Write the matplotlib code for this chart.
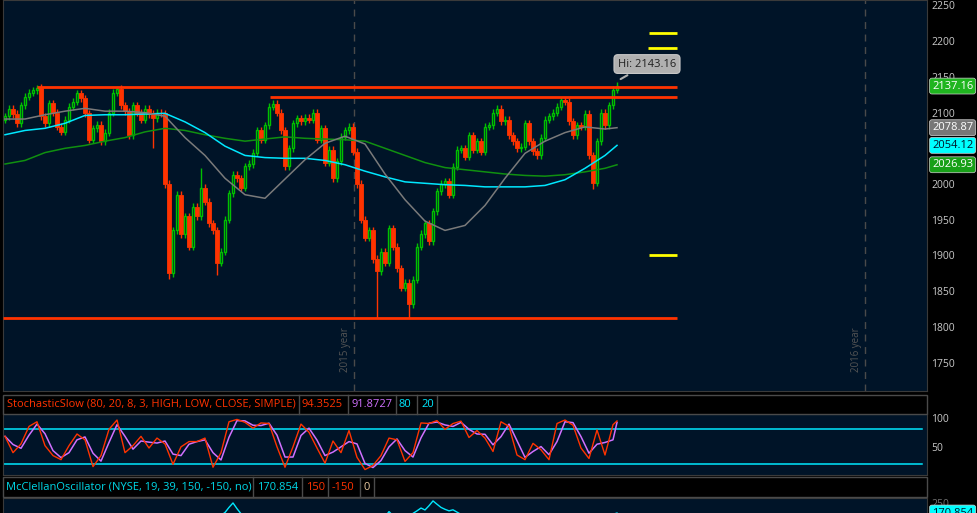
import numpy as np
import matplotlib
matplotlib.use('Agg')
import matplotlib.pyplot as plt
from matplotlib.patches import Rectangle
from matplotlib.lines import Line2D
import matplotlib.transforms as mtransforms

plt.rcParams['font.family'] = ['Open Sans', 'DejaVu Sans']

# daily-ish closes (each bar = 2 sessions), last one is the current price
closes = [2095, 2105, 2098, 2085, 2110, 2122, 2128, 2131, 2135, 2095,
          2085, 2113, 2100, 2080, 2073, 2090, 2108, 2115, 2127, 2120,
          2099, 2062, 2078, 2083, 2060, 2072, 2100, 2128, 2133, 2110,
          2102, 2068, 2110, 2100, 2090, 2105, 2098, 2092, 2100, 2099,
          2000, 1875, 1935, 1985, 1930, 1955, 1912, 1968, 1955, 1995,
          1975, 1945, 1935, 1890, 1905, 1950, 1987, 2013, 2008, 1995,
          2025, 2028, 2044, 2075, 2062, 2082, 2108, 2112, 2100, 2075,
          2025, 2050, 2085, 2092, 2088, 2093, 2090, 2100, 2062, 2078,
          2030, 2048, 2008, 2032, 2066, 2075, 2080, 2045, 2000, 1950,
          1925, 1935, 1895, 1878, 1905, 1890, 1938, 1912, 1882, 1855,
          1862, 1832, 1866, 1912, 1930, 1945, 1920, 1962, 1990, 2000,
          2004, 1985, 2024, 2048, 2050, 2038, 2068, 2048, 2060, 2045,
          2080, 2082, 2100, 2105, 2088, 2090, 2068, 2060, 2050, 2052,
          2085, 2060, 2046, 2040, 2065, 2090, 2095, 2100, 2108, 2117,
          2115, 2088, 2068, 2082, 2080, 2098, 2040, 2002, 2060, 2100,
          2082, 2110, 2132, 2137.16]
first_open = 2090
# bars with long shadows
wick_high = {8: 2138, 28: 2135, 49: 2022, 67: 2117, 153: 2143.16}
wick_low = {37: 2050, 41: 1867, 53: 1873, 93: 1813, 101: 1813, 147: 1993}

# moving averages sampled every 5 bars
ma_day = [0, 5, 10, 15, 20, 25, 30, 35, 40, 45, 50, 55, 60, 65, 70, 75,
          80, 85, 90, 95, 100, 105, 110, 115, 120, 125, 130, 135, 140, 145, 150, 153]
ma_gray = [2091, 2091, 2097, 2102, 2106, 2102, 2102, 2100, 2095, 2065, 2040, 2008,
           1985, 1980, 2007, 2034, 2057, 2067, 2056, 2014, 1978, 1948, 1935, 1942,
           1970, 2008, 2043, 2060, 2072, 2080, 2077, 2078.87]
ma_cyan = [2069, 2075, 2078, 2085, 2096, 2097, 2097, 2098, 2099, 2087, 2072, 2053,
           2040, 2037, 2036, 2036, 2033, 2027, 2018, 2010, 2003, 2001, 1999, 1998,
           1996, 1996, 1996, 1998, 2006, 2022, 2040, 2054.12]
ma_green = [2028, 2033, 2044, 2050, 2054, 2060, 2065, 2073, 2078, 2075, 2069, 2064,
            2060, 2063, 2066, 2064, 2063, 2062, 2060, 2050, 2040, 2030, 2023, 2020,
            2017, 2014, 2012, 2011, 2013, 2017, 2022, 2026.93]

# drawn levels: (price, first bar, last bar)
red_levels = [(2136, 8, 168), (2122, 66.25, 168), (1813, -0.5, 168)]
yellow_levels = [(2211, 161, 168), (2191, 160.75, 168), (1900, 161, 168)]
year_bars = [87.25, 215]
year_labels = ['2015 year', '2016 year']

# slow stochastic %K every 2 bars
stoch_k = [68, 40, 55, 85, 93, 52, 35, 28, 52, 72,
           62, 16, 35, 80, 96, 40, 52, 68, 48, 65,
           55, 20, 50, 59, 59, 65, 15, 40, 93, 97,
           92, 82, 91, 90, 50, 15, 50, 89, 75, 48,
           22, 60, 40, 78, 32, 11, 18, 35, 65, 62,
           25, 40, 91, 90, 95, 80, 90, 94, 66, 78,
           65, 42, 93, 85, 36, 28, 56, 45, 28, 90,
           96, 87, 48, 30, 79, 36, 88, 94.35]
stoch_day = list(range(0, 153, 2)) + [153]

# McClellan oscillator
mcc_day = [0, 10, 20, 30, 40, 44, 48, 52, 55, 56, 57, 58, 59, 62, 70, 80, 88, 92,
           95, 96, 97, 100, 102, 103, 104, 105, 106, 107, 108, 109, 110, 111, 112,
           113, 114, 116, 120, 130, 140, 146, 148, 150, 153]
mcc = [40, 20, 35, -20, -150, -60, 20, 110, 175, 215, 250, 205, 165, 120, 30, -40,
       -120, -60, 140, 182, 150, 120, 168, 188, 210, 195, 228, 266, 240, 215, 200,
       188, 196, 178, 160, 130, 90, 40, -30, -90, 60, 140, 170.854]

BG = '#001428'
RED = '#ff3300'
GREEN = '#00c000'
TXT = '#c8c8c8'
W, H = 978, 513


def rect(x0, y0, x1, y1):
    return [x0 / W, 1 - y1 / H, (x1 - x0) / W, (y1 - y0) / H]


fig = plt.figure(figsize=(W / 100, H / 100), dpi=100, facecolor='black')

# ---------------- price panel
ax = fig.add_axes(rect(3, 0, 927, 391), facecolor=BG)
ax.set_xlim(-0.5, 230.5)
ax.set_ylim(1710.1, 2257.7)

opens = [first_open] + closes[:-1]
n = len(closes)
for i in range(n):
    o, c = opens[i], closes[i]
    hi = wick_high.get(i, max(o, c) + 5)
    lo = wick_low.get(i, min(o, c) - 5)
    up = c >= o
    col = GREEN if up else RED
    top, bot = max(o, c), min(o, c)
    ax.vlines(i, top, hi, color=col, lw=1, zorder=2)
    ax.vlines(i, lo, bot, color=col, lw=1, zorder=2)
    if up:
        ax.add_patch(Rectangle((i - 0.35, bot), 0.7, max(top - bot, 1),
                               fc='none', ec=col, lw=1, zorder=2))
    else:
        ax.add_patch(Rectangle((i - 0.4, bot), 0.8, max(top - bot, 1),
                               fc=col, ec=col, lw=0.6, zorder=2))

ax.plot(ma_day, ma_green, color='#109010', lw=1.1, zorder=3)
ax.plot(ma_day, ma_cyan, color='#00e8ff', lw=1.1, zorder=3)
ax.plot(ma_day, ma_gray, color='#7a7a7a', lw=1.1, zorder=3)

for p, a, b in red_levels:
    ax.hlines(p, a, b, color=RED, lw=2, zorder=4)
for p, a, b in yellow_levels:
    ax.hlines(p, a, b, color='#ffff00', lw=2, zorder=4)

for xb, lab in zip(year_bars, year_labels):
    ax.axvline(xb, color='#4a4a4a', lw=1, ls=(0, (5, 4)), zorder=1)
    ax.text(xb - 2.2, 1737, lab, rotation=90, ha='center', va='bottom',
            color='#555555', fontsize=7)

ax.annotate('Hi: 2143.16', xy=(153.3, 2145), xytext=(160.5, 2168),
            ha='center', va='center', fontsize=8, color='#202020',
            bbox=dict(boxstyle='round,pad=0.35', fc='#b0b0b0', ec='#c8c8c8', lw=0.8),
            arrowprops=dict(arrowstyle='-', color='#b0b0b0', lw=1.5), zorder=6)

ax.yaxis.tick_right()
ax.set_yticks(np.arange(1750, 2251, 50))
ax.tick_params(axis='y', length=0, pad=3, labelsize=7.5, labelcolor=TXT)
ax.set_xticks([])
for s in ax.spines.values():
    s.set_color('#3a3a3a')

tr = mtransforms.blended_transform_factory(ax.transAxes, ax.transData)
tags = [(2137.16, '#1fb51f', 'white'), (2078.87, '#777777', 'white'),
        (2054.12, '#00ffff', '#001428'), (2026.93, '#18a018', 'white')]
for val, fc, tc in tags:
    ax.text(1 + 5 / 924, val, f'{val:.2f}', transform=tr, ha='left', va='center',
            fontsize=8, color=tc, clip_on=False, zorder=7,
            bbox=dict(boxstyle='round,pad=0.22', fc=fc, ec='#d0d0d0', lw=0.5))

# ---------------- headers
def header(y0, y1, cells, seps):
    fig.patches.append(Rectangle((3 / W, 1 - y1 / H), 924 / W, (y1 - y0) / H,
                                 transform=fig.transFigure, fc='black',
                                 ec='#4a4a4a', lw=1, zorder=1))
    yc = 1 - (y0 + y1) / 2 / H
    for x, t, c in cells:
        fig.text(x / W, yc, t, color=c, fontsize=8, ha='left', va='center')
    for x in seps:
        fig.add_artist(Line2D([x / W, x / W], [1 - y1 / H, 1 - y0 / H],
                              color='#4a4a4a', lw=1))


header(395, 414,
       [(7, 'StochasticSlow (80, 20, 8, 3, HIGH, LOW, CLOSE, SIMPLE)', RED),
        (302, '94.3525', RED), (352, '91.8727', '#d070ff'),
        (399, '80', '#00e8ff'), (421, '20', '#00e8ff')],
       [299, 348, 396, 417, 437])
header(477, 497,
       [(6, 'McClellanOscillator (NYSE, 19, 39, 150, -150, no)', '#00d8e8'),
        (257, '170.854', '#00d8e8'), (306, '150', RED),
        (332, '-150', RED), (363, '0', '#e8c8a0')],
       [253, 302, 328, 360, 374])

# ---------------- stochastic panel
ax2 = fig.add_axes(rect(3, 414, 927, 475), facecolor=BG)
ax2.set_xlim(-0.5, 230.5)
ax2.set_ylim(1.7, 106.3)
k = np.array(stoch_k, dtype=float)
d = np.concatenate([[k[0]], (k[1:] + k[:-1]) / 2])
d[-1] = 91.8727
ax2.axhline(80, color='#00e8ff', lw=1.1, xmax=0.995)
ax2.axhline(20, color='#00e8ff', lw=1.1, xmax=0.995)
ax2.plot(stoch_day, d, color='#d070ff', lw=1.1)
ax2.plot(stoch_day, k, color=RED, lw=1)
ax2.yaxis.tick_right()
ax2.set_yticks([50, 100])
ax2.tick_params(axis='y', length=0, pad=3, labelsize=7.5, labelcolor=TXT)
ax2.set_xticks([])
for s in ax2.spines.values():
    s.set_color('#3a3a3a')

# ---------------- McClellan panel (runs off the bottom of the picture)
ax3 = fig.add_axes(rect(3, 498, 927, 573), facecolor=BG)
ax3.set_xlim(-0.5, 230.5)
ax3.set_ylim(-301, 289)
ax3.plot(mcc_day, mcc, color='#00e8ff', lw=1)
ax3.yaxis.tick_right()
ax3.set_yticks([250])
ax3.tick_params(axis='y', length=0, pad=3, labelsize=7.5, labelcolor='#707070')
ax3.set_xticks([])
for s in ax3.spines.values():
    s.set_color('#3a3a3a')
tr3 = mtransforms.blended_transform_factory(ax3.transAxes, ax3.transData)
ax3.text(1 + 5 / 924, 170.854, '170.854', transform=tr3, ha='left', va='center',
         fontsize=8, color='#001428', clip_on=False, zorder=7,
         bbox=dict(boxstyle='round,pad=0.22', fc='#00ffff', ec='#d0d0d0', lw=0.5))

fig.savefig('out.png', dpi=100, facecolor=fig.get_facecolor())
